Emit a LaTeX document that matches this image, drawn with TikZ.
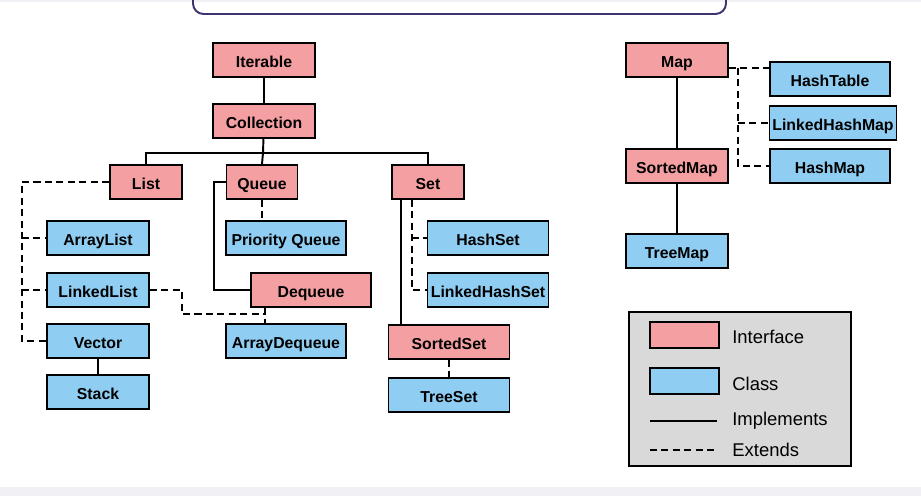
\documentclass[tikz,border=0pt]{standalone}
\usepackage{fontspec}
\usepackage{xcolor}
\setmainfont{Liberation Sans}
\usetikzlibrary{calc}

\definecolor{ifpink}{HTML}{F4A0A2}
\definecolor{clblue}{HTML}{8FCDF2}
\definecolor{lggray}{HTML}{D9D9D9}
\definecolor{framepurple}{HTML}{3C3470}
\definecolor{bandgray}{HTML}{F1F0F4}

\begin{document}
\begin{tikzpicture}[x=0.02cm, y=-0.02cm,
	iface/.style={draw, line width=1.1pt, fill=ifpink, minimum width=2.04cm, minimum height=0.68cm, inner sep=1pt, text height=9pt, text depth=0.6pt, font=\fontsize{9}{11}\selectfont\bfseries},
	cls/.style={draw, line width=1.1pt, fill=clblue, minimum width=2.04cm, minimum height=0.68cm, inner sep=1pt, text height=9pt, text depth=0.6pt, font=\fontsize{9}{11}\selectfont\bfseries},
	impl/.style={line width=1.1pt},
	ext/.style={line width=1.1pt, dash pattern=on 4pt off 2.5pt},
	legendtext/.style={anchor=west, inner sep=0pt, font=\fontsize{10.5}{12}\selectfont}]
				\useasboundingbox (0,0) rectangle (921,496);
				
				% Screen edges
				\fill[bandgray] (0,0) rectangle (921,2);
				\fill[bandgray] (0,487) rectangle (921,496);
				\draw[framepurple, line width=1.1pt, rounded corners=6] (193,0) -- (193,14) -- (726,14) -- (726,0);
				
				% Collection side
				\node[iface] (iterable) at (264,60) {Iterable};
				\node[iface] (collection) at (264,121) {Collection};
				\node[iface, minimum width=1.44cm] (list) at (146,182) {List};
				\node[iface, minimum width=1.42cm] (queue) at (262,182) {Queue};
				\node[iface, minimum width=1.44cm] (set) at (428,182) {Set};
				
				\node[cls] (arraylist) at (98,238) {ArrayList};
				\node[cls] (linkedlist) at (98,290) {LinkedList};
				\node[cls] (vector) at (98,341) {Vector};
				\node[cls] (stack) at (98,392) {Stack};
				
				\node[cls, minimum width=2.4cm] (priority) at (286,238) {Priority Queue};
				\node[iface, minimum width=2.4cm] (dequeue) at (311,290) {Dequeue};
				\node[cls, minimum width=2.4cm] (arraydeque) at (286,341) {ArrayDequeue};
				
				\node[cls, minimum width=2.42cm] (hashset) at (488,238) {HashSet};
				\node[cls, minimum width=2.42cm] (linkedhashset) at (488,290) {LinkedHashSet};
				\node[iface, minimum width=2.42cm] (sortedset) at (449,342) {SortedSet};
				\node[cls, minimum width=2.42cm] (treeset) at (449,395) {TreeSet};
				
				% Map side
				\node[iface] (map) at (677,60) {Map};
				\node[iface] (sortedmap) at (677,166) {SortedMap};
				\node[cls] (treemap) at (677,251) {TreeMap};
				\node[cls, minimum width=2.4cm] (hashtable) at (830,79) {HashTable};
				\node[cls, minimum width=2.54cm] (linkedhashmap) at (833,123) {LinkedHashMap};
				\node[cls, minimum width=2.4cm] (hashmap) at (830,166) {HashMap};
				
				% Rails for the elbow lines
				\coordinate (bus) at (263,153);
				\coordinate (lrail) at (22,0);
				\coordinate (qrail) at (214,0);
				\coordinate (adjoin) at (265,314);
				\coordinate (srail) at (401,0);
				\coordinate (hrail) at (412,0);
				\coordinate (mtop) at (738,68);
				
				% Implements
				\draw[impl] (iterable) -- (collection);
				\draw[impl] (collection) -- (bus);
				\draw[impl] (list.north) |- (bus) -| (set.north);
				\draw[impl] (bus) -- (queue.north);
				\draw[impl] (vector) -- (stack);
				\draw[impl] (queue.west) -| (qrail |- dequeue.west) -- (dequeue.west);
				\draw[impl] (srail |- set.south) -- (srail |- sortedset.north);
				\draw[impl] (map) -- (sortedmap);
				\draw[impl] (sortedmap) -- (treemap);
				
				% Extends
				\draw[ext] (list.west) -| (lrail |- vector.west) -- (vector.west);
				\draw[ext] (lrail |- arraylist.west) -- (arraylist.west);
				\draw[ext] (lrail |- linkedlist.west) -- (linkedlist.west);
				\draw[ext] (queue.south) -- (queue.south |- priority.north);
				\draw[ext] (adjoin |- dequeue.south) -- (adjoin |- arraydeque.north);
				\draw[ext] (linkedlist.east) -- ++(32,0) |- (adjoin);
				\draw[ext] (hrail |- set.south) |- (linkedhashset.west);
				\draw[ext] (hrail |- hashset.west) -- (hashset.west);
				\draw[ext] (sortedset) -- (treeset);
				\draw[ext] (map.east |- mtop) -- (hashtable.west |- mtop);
				\draw[ext] (mtop) |- (hashmap.west);
				\draw[ext] (mtop |- linkedhashmap.west) -- (linkedhashmap.west);
				
				% Legend
				\draw[line width=1.1pt, fill=lggray] (629,312) rectangle (851,466);
				\draw[line width=1.1pt, fill=ifpink] (650,322) rectangle (719,348);
				\draw[line width=1.1pt, fill=clblue] (650,368) rectangle (719,394);
				\draw[impl] (650,421) -- (717,421);
				\draw[ext] (650,450) -- (717,450);
				\node[legendtext] at (732,337) {Interface};
				\node[legendtext] at (732,384) {Class};
				\node[legendtext] at (732,421) {Implements};
				\node[legendtext] at (732,450) {Extends};
			\end{tikzpicture}
\end{document}
